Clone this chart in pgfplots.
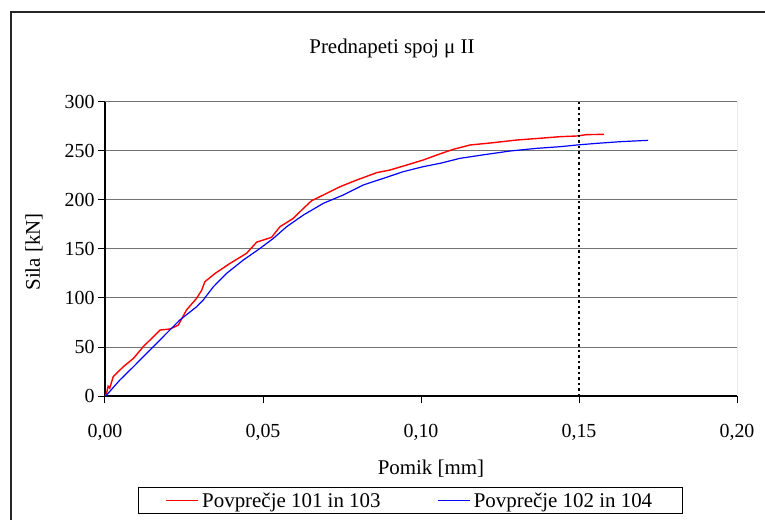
\documentclass[border=0pt]{standalone}
\usepackage{fontspec}
\setmainfont{Liberation Serif}
\usepackage{pgfplots}
\pgfplotsset{compat=1.18}
\newcommand{\fs}{\fontsize{20}{24}\selectfont}
\newcommand{\fl}{\fontsize{21}{25}\selectfont}
\begin{document}
\begin{tikzpicture}
\useasboundingbox (-105bp,-124bp) rectangle (660bp,396bp);
\begin{axis}[
  at={(0,0)}, anchor=south west,
  scale only axis, width=632bp, height=294bp,
  xmin=0, xmax=0.2, ymin=0, ymax=300,
  xtick={0,0.05,0.1,0.15,0.2},
  ytick={0,50,100,150,200,250,300},
  axis x line*=bottom, axis y line*=left,
  axis line style={black, line width=1.2bp},
  tick style={black, line width=1bp},
  tick align=outside, major tick length=7bp,
  ymajorgrids, major grid style={black!55, line width=1bp},
  /pgf/number format/assume math mode=true,
  ticklabel style={font=\fs},
  xticklabel style={yshift=-18bp, /pgf/number format/.cd, fixed, fixed zerofill, precision=2, use comma},
  title={Prednapeti spoj μ II},
  title style={font=\fl, at={(axis description cs:0.4541,1.1463)}, anchor=base},
  xlabel={Pomik [mm]},
  xlabel style={font=\fl, at={(axis description cs:0.5158,-0.2653)}, anchor=base},
  ylabel={Sila [kN]},
  ylabel style={font=\fl, at={(axis description cs:-0.1123,0.49)}, anchor=center, rotate=0},
  legend columns=2,
  legend style={at={(axis description cs:0.4834,-0.3554)}, anchor=center, draw=black, line width=1bp,
    font=\fl, inner xsep=27bp, inner ysep=3bp,
    nodes={inner xsep=3.5bp, inner ysep=2bp}},
  /tikz/every even column/.append style={column sep=53bp},
  legend image code/.code={\draw[#1] (0bp,0bp) -- (32bp,0bp);},
  legend cell align=left,
]
\addplot[red, line width=1.4bp] coordinates {
(0,0) (0.0005,3) (0.0010,10) (0.0015,8) (0.0026,19.7) (0.0058,29.9)
(0.0090,38.4) (0.0121,50.3) (0.0153,60.5) (0.0174,67.3) (0.0206,68.4)
(0.0232,72.4) (0.0258,87.8) (0.0290,99.7) (0.0306,108) (0.0316,116.6)
(0.0348,125) (0.0396,135.4) (0.0448,145.6) (0.0480,157) (0.0527,161.9)
(0.0554,172.8) (0.0596,181.3) (0.0628,191.5) (0.0654,199.3) (0.0691,205.1)
(0.0744,213.6) (0.0797,220.4) (0.0860,227.9) (0.0902,230.6) (0.0955,235.7)
(0.1007,240.8) (0.1050,245.9) (0.1102,251.7) (0.1155,256.1) (0.1229,258.5)
(0.1303,261.2) (0.1377,263) (0.1440,264.6) (0.1493,265.3) (0.1524,266.7)
(0.1579,267)
};
\addlegendentry{Povprečje 101 in 103}
\addplot[blue, line width=1.2bp] coordinates {
(0,0) (0.0005,1) (0.0047,16.3) (0.0090,29.9) (0.0142,46.9) (0.0195,64)
(0.0237,77.6) (0.0290,91.1) (0.0311,98) (0.0343,111.5) (0.0385,125.2)
(0.0438,138.8) (0.0491,150.7) (0.0533,160.9) (0.0575,172.8) (0.0628,184.7)
(0.0691,196.6) (0.0754,205.1) (0.0817,215.3) (0.0881,222.1) (0.0944,228.9)
(0.1007,234) (0.1060,237.4) (0.1123,242.5) (0.1208,246.6) (0.1282,250)
(0.1366,252.7) (0.1440,254.4) (0.1493,256.1) (0.1556,257.8) (0.1630,259.5)
(0.1719,260.9)
};
\addlegendentry{Povprečje 102 in 104}
\addplot[black, line width=2bp, dash pattern=on 2.5bp off 3bp, forget plot] coordinates {(0.15,0) (0.15,300)};
\draw[black!55, line width=1bp] (rel axis cs:0,1) -- (rel axis cs:1,1) -- (rel axis cs:1,0);
\end{axis}
\draw[line width=1.5bp, black!85] (-94bp,-140bp) -- (-94bp,384bp) -- (680bp,384bp);
\end{tikzpicture}
\end{document}
